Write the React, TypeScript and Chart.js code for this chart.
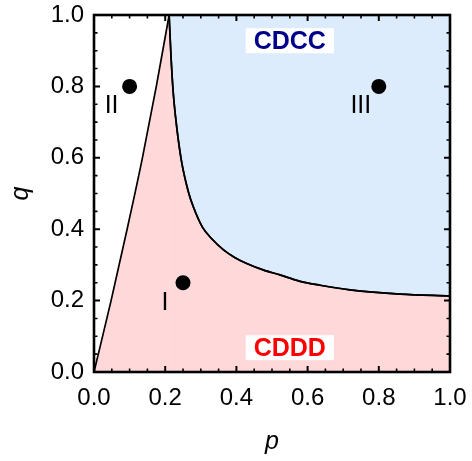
import React, { useEffect, useRef } from 'react';
import { Chart, registerables } from 'chart.js';

Chart.register(...registerables);

// Boundary between white (II) region and CDDD region
const leftBoundaryP = [0, 0.048, 0.093, 0.136, 0.175, 0.211];
const leftBoundaryQ = [0, 0.2, 0.4, 0.6, 0.8, 1.0];

// Boundary between CDDD and CDCC regions
const rightBoundaryP = [0.211, 0.216, 0.222, 0.23, 0.245, 0.265, 0.28, 0.305, 0.33, 0.363, 0.395, 0.429, 0.475, 0.522, 0.579, 0.635, 0.719, 0.86, 1.0];
const rightBoundaryQ = [1.0, 0.89, 0.79, 0.706, 0.595, 0.505, 0.46, 0.405, 0.374, 0.343, 0.321, 0.304, 0.286, 0.272, 0.254, 0.243, 0.23, 0.218, 0.213];

// Marked points
const pointP = [0.1, 0.25, 0.8];
const pointQ = [0.8, 0.25, 0.8];
const pointNames = ['II', 'I', 'III'];

// Region labels
const regionNames = ['CDCC', 'CDDD'];
const regionP = [0.55, 0.55];
const regionQ = [0.928, 0.068];
const regionColors = ['#00008B', '#FF0000'];

// Axis ticks
const tickValues = [0, 0.2, 0.4, 0.6, 0.8, 1.0];
const tickLabels = ['0.0', '0.2', '0.4', '0.6', '0.8', '1.0'];
const minorStep = 0.05;

const xTitle = 'p';
const yTitle = 'q';

const PINK = 'rgb(255, 216, 218)';
const BLUE = 'rgb(220, 236, 253)';
const FONT = '"Liberation Sans", Arial, Helvetica, sans-serif';

const toXY = (ps: number[], qs: number[]) => ps.map((p, i) => ({ x: p, y: qs[i] }));

const labelFor = (v: number) => {
  const idx = tickValues.findIndex((t) => Math.abs(t - v) < 1e-6);
  return idx >= 0 ? tickLabels[idx] : '';
};

const decorPlugin = {
  id: 'decor',
  afterDatasetsDraw(chart: any) {
    const { ctx, scales } = chart;
    const x = scales.x;
    const y = scales.y;
    ctx.save();
    ctx.font = `bold 25px ${FONT}`;
    ctx.textAlign = 'center';
    ctx.textBaseline = 'middle';
    regionNames.forEach((name, i) => {
      const cx = x.getPixelForValue(regionP[i]);
      const cy = y.getPixelForValue(regionQ[i]);
      const w = ctx.measureText(name).width + 16;
      ctx.fillStyle = '#ffffff';
      ctx.fillRect(cx - w / 2, cy - 12.5, w, 25);
      ctx.fillStyle = regionColors[i];
      ctx.fillText(name, cx, cy + 1);
    });
    ctx.font = `25px ${FONT}`;
    ctx.fillStyle = '#000';
    pointNames.forEach((n, i) => {
      const px = x.getPixelForValue(pointP[i]);
      const py = y.getPixelForValue(pointQ[i]);
      ctx.fillText(n, px - 18, py + 20);
    });
    ctx.restore();
  },
  afterDraw(chart: any) {
    const { ctx, chartArea: a, scales } = chart;
    const x = scales.x;
    const y = scales.y;
    ctx.save();
    ctx.strokeStyle = '#000';
    const n = Math.round(1 / minorStep);
    for (let i = 0; i <= n; i++) {
      const v = i * minorStep;
      const major = i % 4 === 0;
      const len = major ? 6 : 3.5;
      ctx.lineWidth = major ? 2 : 1.6;
      const px = x.getPixelForValue(v);
      const py = y.getPixelForValue(v);
      ctx.beginPath();
      ctx.moveTo(px, a.bottom);
      ctx.lineTo(px, a.bottom - len);
      ctx.moveTo(px, a.top);
      ctx.lineTo(px, a.top + len);
      ctx.moveTo(a.left, py);
      ctx.lineTo(a.left + len, py);
      ctx.moveTo(a.right, py);
      ctx.lineTo(a.right - len, py);
      ctx.stroke();
    }
    ctx.lineWidth = 2.6;
    ctx.strokeRect(a.left, a.top, a.right - a.left, a.bottom - a.top);
    ctx.fillStyle = '#000';
    ctx.font = `italic 25px ${FONT}`;
    ctx.textAlign = 'center';
    ctx.textBaseline = 'alphabetic';
    ctx.fillText(xTitle, (a.left + a.right) / 2, a.bottom + 77);
    ctx.translate(21, (a.top + a.bottom) / 2);
    ctx.rotate(-Math.PI / 2);
    ctx.textBaseline = 'middle';
    ctx.fillText(yTitle, 0, 0);
    ctx.restore();
  },
};

export default function App() {
  const canvasRef = useRef<HTMLCanvasElement | null>(null);

  useEffect(() => {
    const canvas = canvasRef.current;
    if (!canvas) return;
    const lineCommon = {
      borderColor: '#000',
      borderWidth: 1.7,
      pointRadius: 0,
      cubicInterpolationMode: 'monotone',
    };
    const chart = new Chart(canvas, {
      type: 'line',
      data: {
        datasets: [
          {
            ...lineCommon,
            label: 'left-pink',
            data: toXY(leftBoundaryP, leftBoundaryQ),
            fill: { target: 'origin', above: PINK, below: PINK },
          },
          {
            ...lineCommon,
            label: 'right-pink',
            data: toXY(rightBoundaryP, rightBoundaryQ),
            fill: { target: 'origin', above: PINK, below: PINK },
          },
          {
            ...lineCommon,
            label: 'right-blue',
            data: toXY(rightBoundaryP, rightBoundaryQ),
            fill: { target: 'end', above: BLUE, below: BLUE },
          },
          {
            label: 'points',
            data: toXY(pointP, pointQ),
            showLine: false,
            pointRadius: 7.5,
            pointBackgroundColor: '#000',
            pointBorderColor: '#000',
            pointBorderWidth: 0,
            fill: false,
          },
        ],
      },
      options: {
        responsive: false,
        animation: false,
        layout: { padding: { top: 15, right: 22, left: 0, bottom: 0 } },
        plugins: {
          legend: { display: false },
          tooltip: { enabled: false },
          filler: { drawTime: 'beforeDatasetsDraw' },
        },
        scales: {
          x: {
            type: 'linear',
            min: 0,
            max: 1,
            grid: { display: false, drawTicks: false },
            border: { display: false },
            ticks: {
              stepSize: 0.2,
              padding: 12,
              color: '#000',
              font: { family: FONT, size: 24 },
              maxRotation: 0,
              callback: (v: any) => labelFor(Number(v)),
            },
            afterFit: (s: any) => {
              s.height = 461 - 372;
              s.paddingLeft = 0;
              s.paddingRight = 0;
            },
          },
          y: {
            type: 'linear',
            min: 0,
            max: 1,
            grid: { display: false, drawTicks: false },
            border: { display: false },
            ticks: {
              stepSize: 0.2,
              padding: 10,
              color: '#000',
              font: { family: FONT, size: 24 },
              callback: (v: any) => labelFor(Number(v)),
            },
            afterFit: (s: any) => {
              s.width = 94;
              s.paddingTop = 0;
              s.paddingBottom = 0;
            },
          },
        },
      },
      plugins: [decorPlugin],
    } as any);
    return () => chart.destroy();
  }, []);

  return (
    <div style={{ position: 'fixed', left: 0, top: 0, width: 472, height: 461, background: '#fff' }}>
      <canvas ref={canvasRef} width={472} height={461} style={{ display: 'block' }} />
    </div>
  );
}
